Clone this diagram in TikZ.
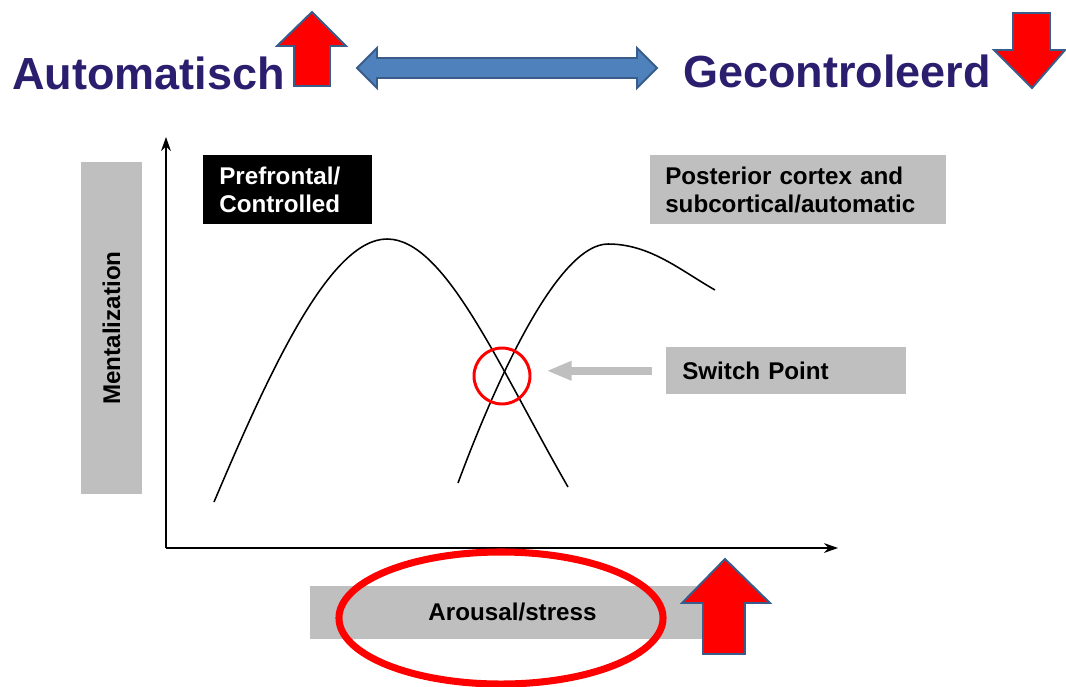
\documentclass[tikz,border=0pt]{standalone}
\usepackage{fontspec}
\setmainfont{Liberation Sans}
\usetikzlibrary{arrows.meta}

\definecolor{titelblauw}{RGB}{43,30,110}
\definecolor{pijlrand}{RGB}{56,93,138}
\definecolor{pijlblauw}{RGB}{79,129,189}
\definecolor{vakgrijs}{RGB}{191,191,191}

\tikzset{
  kop/.style={font=\fontsize{32}{36}\selectfont\bfseries, text=titelblauw, inner sep=0pt},
  grijsvak/.style={fill=vakgrijs, font=\fontsize{17.2}{19.5}\selectfont\bfseries, inner ysep=0pt},
  rodepijl/.style={fill=red, draw=pijlrand, line width=1.4pt, line join=miter},
  curva/.style={line width=1.1pt},
  eje/.style={line width=1.1pt, -{Stealth[length=10pt, width=7pt]}},
}

\begin{document}
\begin{tikzpicture}[x=0.025cm, y=-0.025cm]

    % Marco
    \useasboundingbox (0,0) rectangle (1066,686);

    % Títulos
    \node[kop, anchor=base west] (auto) at (12,89) {Automatisch};
    \node[kop, anchor=base west] (gecon) at (683,87) {Gecontroleerd};

    % Flechas rojas arriba
    \draw[rodepijl] (294,86) -- (294,46) -- (277,46) -- (312,12) -- (346,46)
        -- (330,46) -- (330,86) -- cycle;
    \draw[rodepijl] (1013,13) -- (1013,50) -- (994,50) -- (1032,88) -- (1065,50)
        -- (1050,50) -- (1050,13) -- cycle;

    % Flecha doble
    \draw[fill=pijlblauw, draw=pijlrand, line width=1.4pt] (357,68) -- (377,48) -- (377,58)
        -- (637,58) -- (637,48) -- (657,68) -- (637,88) -- (637,78) -- (377,78)
        -- (377,88) -- cycle;

    % Ejes
    \coordinate (origen) at (166,548);
    \coordinate (ytop) at (166,137);
    \coordinate (xfin) at (838,548);
    \draw[eje] (origen) -- (ytop);
    \draw[eje] (origen) -- (xfin);

    % Etiqueta vertical
    \node[grijsvak, rotate=90, minimum width=8.3cm, minimum height=1.525cm]
        (mental) at (111.5,328) {Mentalization};

    % Cajas superiores
    \node[fill=black, text=white, font=\fontsize{17.2}{19.5}\selectfont\bfseries,
        anchor=north west, inner xsep=0.4cm, inner ysep=0pt, text width=3.425cm,
        minimum height=1.725cm, align=left] (pref) at (203,155) {Prefrontal/\\Controlled};
    \node[grijsvak, anchor=north west, inner xsep=0.375cm, text width=6.65cm,
        minimum height=1.725cm, align=left] (post) at (650,155)
        {Posterior cortex and\\subcortical/automatic};

    % Curva prefrontal
    \draw[curva] (214,502) .. controls (270,370) and (330,239) .. (387,239)
        .. controls (445,239) and (498,365) .. (568,487);

    % Curva posterior
    \draw[curva] (458,483) .. controls (500,370) and (560,244) .. (608,244)
        .. controls (650,244) and (680,270) .. (715,290);

    % Punto de cambio
    \node[circle, draw=red, line width=2.1pt, minimum size=1.4cm, inner sep=0pt]
        (cruce) at (502,376) {};
    \node[grijsvak, anchor=north west, inner xsep=0.4cm, text width=5.2cm,
        minimum height=1.175cm, align=left] (switch) at (666,347) {Switch Point};
    \draw[vakgrijs, line width=5.7pt, -{Triangle[length=17.8pt, width=12.8pt]},
        shorten <=10pt, shorten >=10.7pt] (switch.west) -- (switch.west -| cruce.east);

    % Eje horizontal: etiqueta
    \node[grijsvak, minimum width=10.125cm, minimum height=1.325cm]
        (arousal) at (512.5,612) {Arousal/stress};
    \draw[red, line width=5pt] (501,618) ellipse [x radius=4.05cm, y radius=1.65cm];

    % Flecha roja abajo
    \draw[rodepijl] (703,654) -- (703,603) -- (682,603) -- (725,559) -- (770,603)
        -- (745,603) -- (745,654) -- cycle;

\end{tikzpicture}
\end{document}
